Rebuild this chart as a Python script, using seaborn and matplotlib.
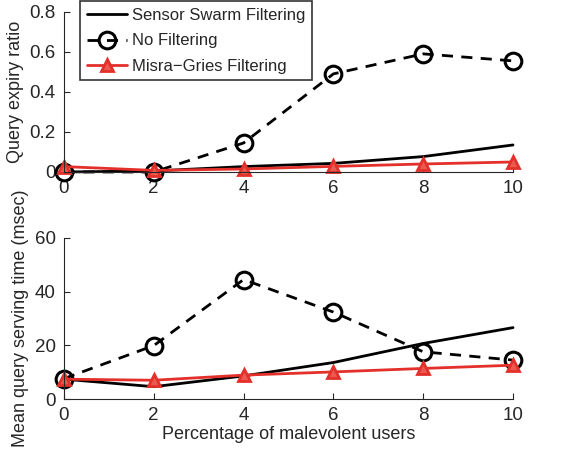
import numpy as np
import pandas as pd
import seaborn as sns
import matplotlib.pyplot as plt

x = [0, 2, 4, 6, 8, 10]

# query expiry ratio (top)
expiry_sensor = [0.0, 0.005, 0.027, 0.043, 0.077, 0.135]
expiry_none = [0.0, 0.0, 0.145, 0.49, 0.59, 0.555]
expiry_misra = [0.027, 0.008, 0.015, 0.028, 0.04, 0.05]

# mean query serving time in msec (bottom)
time_sensor = [7.4, 4.6, 8.6, 13.6, 20.7, 26.6]
time_none = [7.6, 19.9, 44.5, 32.4, 17.6, 14.5]
time_misra = [7.4, 7.0, 8.9, 10.1, 11.4, 12.6]

names = ['Sensor Swarm Filtering', 'No Filtering', 'Misra\u2212Gries Filtering']
red = '#e3302a'

sns.set_style('ticks')
plt.rcParams['font.family'] = ['Liberation Sans', 'DejaVu Sans']
fs = 13.5
plt.rcParams['font.size'] = fs

fig = plt.figure(figsize=(5.81, 4.55), dpi=100)
ax1 = fig.add_axes([0.110, 0.622, 0.773, 0.352])
ax2 = fig.add_axes([0.110, 0.123, 0.773, 0.354])


def draw(ax, s, n, m):
    sns.lineplot(x=x, y=s, ax=ax, color='black', lw=2, label=names[0])
    sns.lineplot(x=x, y=n, ax=ax, color='black', lw=2, dashes=False, linestyle=(0, (4, 3)),
                 marker='o', markersize=12, markerfacecolor='none',
                 markeredgecolor='black', markeredgewidth=2.2, label=names[1])
    sns.lineplot(x=x, y=m, ax=ax, color=red, lw=2, marker='^', markersize=9,
                 markerfacecolor='#ea5a50', markeredgecolor=red, markeredgewidth=2,
                 label=names[2])
    ax.set_xlim(0, 10)
    ax.set_xticks(x)
    ax.tick_params(direction='in', length=4, width=0.8, labelsize=fs, pad=6)
    for sp in ['top', 'right']:
        ax.spines[sp].set_visible(False)
    for line in ax.lines:
        line.set_clip_on(False)


draw(ax1, expiry_sensor, expiry_none, expiry_misra)
ax1.set_ylim(0, 0.8)
ax1.set_yticks([0, 0.2, 0.4, 0.6, 0.8])
ax1.set_yticklabels(['0', '0.2', '0.4', '0.6', '0.8'])
ax1.set_ylabel('Query expiry ratio', fontsize=13, labelpad=4)
leg = ax1.legend(loc='upper left', bbox_to_anchor=(0.036, 1.065), frameon=True,
                 fancybox=False, edgecolor='black', fontsize=12, handlelength=2.4,
                 borderpad=0.4, labelspacing=0.62, handletextpad=0.3,
                 borderaxespad=0)
leg.get_frame().set_linewidth(1.2)

draw(ax2, time_sensor, time_none, time_misra)
ax2.set_ylim(0, 60)
ax2.set_yticks([0, 20, 40, 60])
ax2.set_ylabel('Mean query serving time (msec)', fontsize=13, labelpad=4)
ax2.set_xlabel('Percentage of malevolent users', fontsize=13, labelpad=1)
ax2.get_legend().remove()

fig.savefig('out.png', dpi=100)
